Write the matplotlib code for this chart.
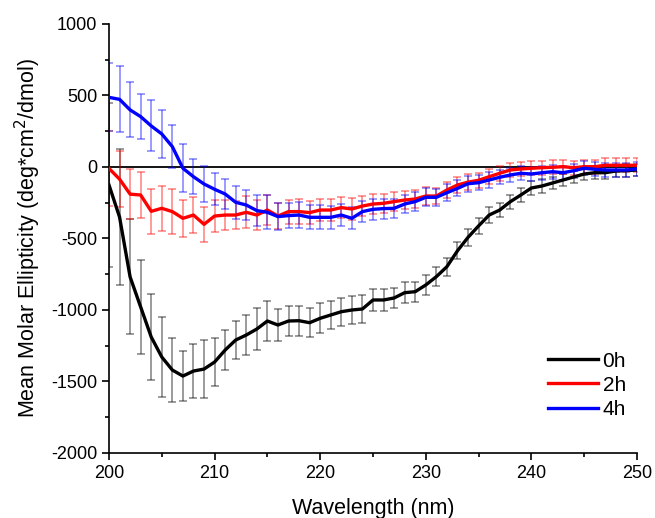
import numpy as np
import matplotlib
matplotlib.use('Agg')
import matplotlib.pyplot as plt
from matplotlib.ticker import MultipleLocator

plt.rcParams['font.family'] = ['Liberation Sans', 'DejaVu Sans']
plt.rcParams['axes.unicode_minus'] = False

# CD spectra, mean molar ellipticity vs wavelength
wavelength = [200, 201, 202, 203, 204, 205, 206, 207, 208, 209,
              210, 211, 212, 213, 214, 215, 216, 217, 218, 219,
              220, 221, 222, 223, 224, 225, 226, 227, 228, 229,
              230, 231, 232, 233, 234, 235, 236, 237, 238, 239,
              240, 241, 242, 243, 244, 245, 246, 247, 248, 249, 250]

h0 = [-126, -350, -769, -979, -1189, -1329, -1420, -1462, -1427, -1413,
      -1364, -1280, -1210, -1175, -1133, -1077, -1105, -1077, -1075, -1089,
      -1058, -1035, -1012, -1000, -993, -930, -930, -916, -879, -872,
      -825, -767, -697, -586, -492, -412, -336, -301, -243, -196,
      -147, -133, -112, -91, -70, -49, -40, -40, -28, -26, -21]
h0_err = [575, 475, 402, 330, 302, 280, 224, 172, 190, 205,
          165, 137, 133, 143, 147, 143, 112, 108, 105, 100,
          105, 100, 98, 95, 95, 80, 75, 72, 72, 70,
          68, 65, 62, 60, 58, 55, 55, 52, 50, 50,
          48, 48, 45, 45, 45, 45, 45, 45, 45, 45, 45]

h2 = [-10, -85, -190, -196, -310, -289, -312, -359, -336, -401,
      -343, -336, -336, -317, -336, -301, -343, -312, -312, -319,
      -301, -301, -284, -294, -273, -259, -254, -242, -231, -224,
      -203, -203, -161, -126, -106, -93, -68, -44, -21, -14,
      -9, -5, -2, 2, -5, 2, 2, 12, 12, 12, 12]
h2_err = [260, 195, 175, 160, 157, 157, 155, 130, 128, 124,
          114, 107, 100, 113, 105, 108, 88, 84, 85, 82,
          80, 78, 75, 75, 72, 70, 68, 66, 64, 62,
          60, 58, 56, 55, 55, 54, 54, 52, 52, 52,
          50, 50, 50, 50, 50, 50, 50, 50, 50, 50, 50]

h4 = [487, 473, 399, 352, 287, 231, 142, -9, -68, -119,
      -156, -189, -247, -266, -305, -317, -347, -340, -336, -352,
      -352, -352, -336, -359, -312, -296, -291, -289, -259, -242,
      -212, -212, -180, -150, -117, -110, -91, -72, -56, -44,
      -49, -40, -33, -40, -26, -9, -16, -21, -21, -21, -14]
h4_err = [237, 230, 192, 158, 178, 170, 151, 168, 122, 127,
          113, 105, 117, 103, 110, 120, 93, 85, 90, 85,
          85, 82, 80, 78, 75, 72, 70, 68, 66, 64,
          62, 60, 58, 56, 55, 54, 53, 50, 50, 50,
          50, 50, 50, 50, 50, 50, 50, 50, 50, 50, 50]

fig = plt.figure(figsize=(6.55, 5.18), dpi=100)
ax = fig.add_axes([0.1664, 0.1255, 0.8061, 0.8282])

ax.axhline(0, color='black', linewidth=1.3, zorder=1)

series = [(h0, h0_err, 'black', '0h'),
          (h2, h2_err, 'red', '2h'),
          (h4, h4_err, 'blue', '4h')]
for vals, errs, c, lab in series:
    ax.errorbar(wavelength, vals, yerr=errs, fmt='none', ecolor=c, alpha=0.5,
                elinewidth=1.1, capsize=2.6, capthick=1.1, zorder=2)
for vals, errs, c, lab in series:
    ax.plot(wavelength, vals, color=c, linewidth=2.4, label=lab, zorder=3)

ax.set_xlim(200, 250)
ax.set_ylim(-2000, 1000)
ax.xaxis.set_major_locator(MultipleLocator(10))
ax.xaxis.set_minor_locator(MultipleLocator(5))
ax.yaxis.set_major_locator(MultipleLocator(500))
ax.yaxis.set_minor_locator(MultipleLocator(250))
ax.tick_params(which='major', direction='out', length=5, width=1.2, labelsize=13)
ax.tick_params(which='minor', direction='out', length=3, width=1.2)

ax.spines['top'].set_visible(False)
ax.spines['right'].set_visible(False)
ax.spines['left'].set_linewidth(1.2)
ax.spines['bottom'].set_linewidth(1.2)

ax.set_xlabel('Wavelength (nm)', fontsize=15.5, labelpad=12)
ax.set_ylabel('Mean Molar Ellipticity (deg*cm$^2$/dmol)', fontsize=15.5, labelpad=6)

ax.legend(loc='lower right', bbox_to_anchor=(0.995, 0.06), borderaxespad=0,
          frameon=False, fontsize=15, handlelength=2.4, handletextpad=0.2,
          labelspacing=0.25)

fig.savefig('out.png', dpi=100)
